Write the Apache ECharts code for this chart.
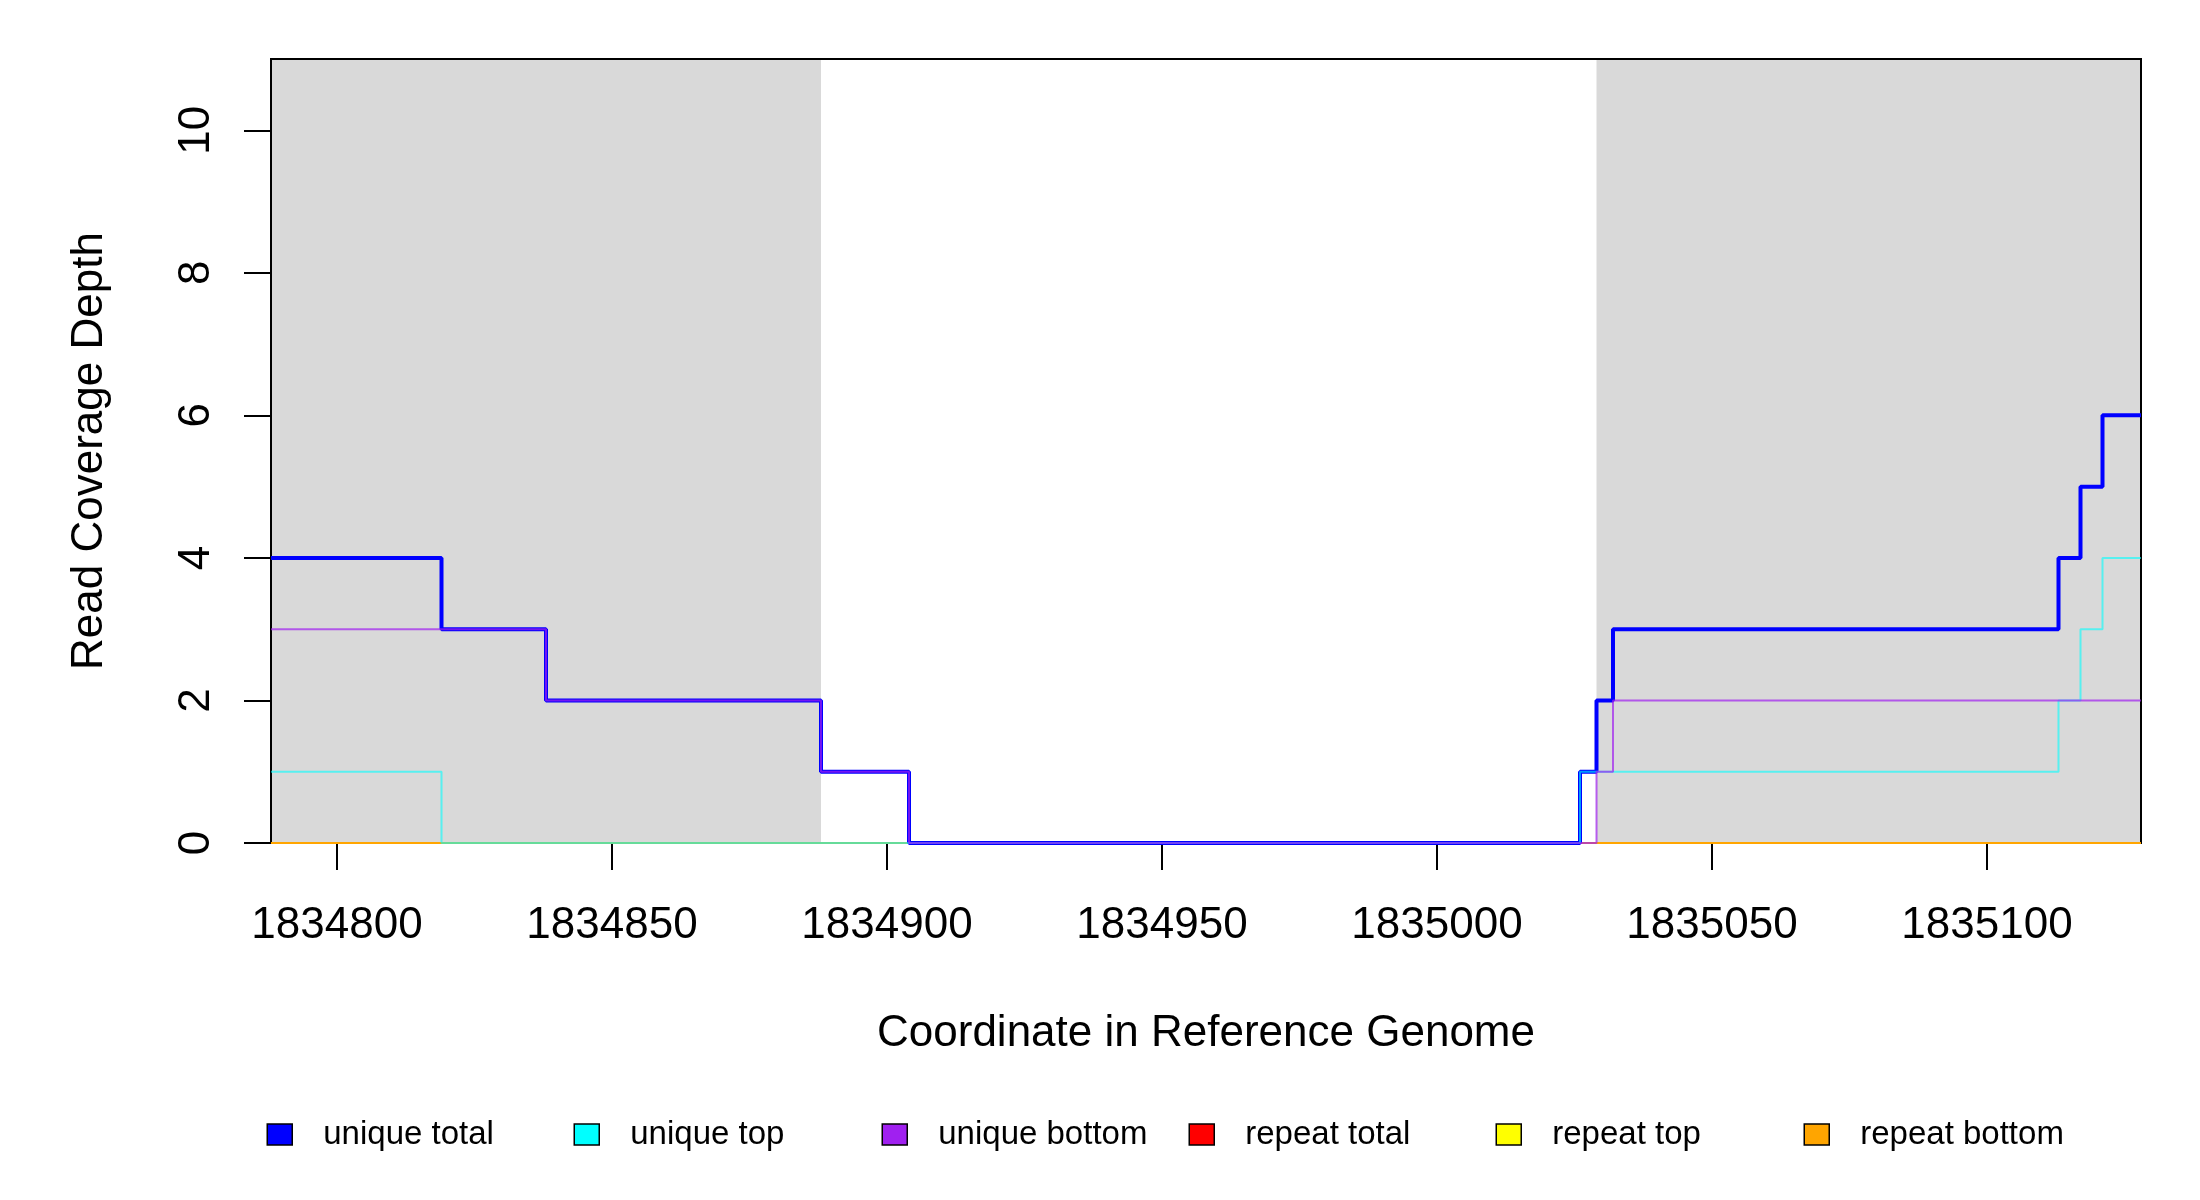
<!DOCTYPE html>
<html>
<head>
<meta charset="utf-8">
<script src="https://cdn.jsdelivr.net/npm/echarts@6/dist/echarts.min.js"></script>
<style>
html,body{margin:0;padding:0;background:#fff;}
#chart{width:2200px;height:1200px;}
</style>
</head>
<body>
<div id="chart"></div>
<script>
// ---- data ----
const positions    = [1834788, 1834819, 1834838, 1834888, 1834904, 1835026, 1835029, 1835032, 1835113, 1835117, 1835121, 1835128];
const uniqueTotal  = [4, 3, 2, 1, 0, 1, 2, 3, 4, 5, 6, 6];
const uniqueTop    = [1, 0, 0, 0, 0, 1, 1, 1, 2, 3, 4, 4];
const uniqueBottom = [3, 3, 2, 1, 0, 0, 1, 2, 2, 2, 2, 2];
const repeatTotal  = [0, 0, 0, 0, 0, 0, 0, 0, 0, 0, 0, 0];
const repeatTop    = [0, 0, 0, 0, 0, 0, 0, 0, 0, 0, 0, 0];
const repeatBottom = [0, 0, 0, 0, 0, 0, 0, 0, 0, 0, 0, 0];
const shadedRegions = [[1834788, 1834888], [1835029, 1835128]];
const xTicks = [1834800, 1834850, 1834900, 1834950, 1835000, 1835050, 1835100];
const yTicks = [0, 2, 4, 6, 8, 10];
const xRange = [1834788, 1835128];
const yRange = [0, 11];
const seriesNames = ['unique total', 'unique top', 'unique bottom', 'repeat total', 'repeat top', 'repeat bottom'];

// ---- styling ----
const FONT = '"Liberation Sans", Arial, sans-serif';
const colors = {
  'unique total': '#0000ff', 'unique top': '#00ffff', 'unique bottom': '#a020f0',
  'repeat total': '#ff0000', 'repeat top': '#ffff00', 'repeat bottom': '#ffa500'
};
const values = {
  'unique total': uniqueTotal, 'unique top': uniqueTop, 'unique bottom': uniqueBottom,
  'repeat total': repeatTotal, 'repeat top': repeatTop, 'repeat bottom': repeatBottom
};
const widths = {'unique total': 4, 'unique top': 2, 'unique bottom': 2, 'repeat total': 2, 'repeat top': 2, 'repeat bottom': 2};
const opac = {'unique total': 1, 'unique top': 0.6, 'unique bottom': 0.7, 'repeat total': 1, 'repeat top': 1, 'repeat bottom': 1};
const drawOrder = ['repeat total', 'repeat top', 'repeat bottom', 'unique total', 'unique top', 'unique bottom'];

function pairs(ys) { return positions.map((x, i) => [x, ys[i]]); }

const series = [{
  name: 'shade', type: 'line', data: [], silent: true, z: 0,
  markArea: {
    silent: true, z: 0,
    itemStyle: {color: '#d9d9d9', opacity: 1},
    data: shadedRegions.map(r => [{xAxis: r[0]}, {xAxis: r[1]}])
  }
}].concat(drawOrder.map(n => ({
  name: n, type: 'line', step: 'end', showSymbol: false, symbol: 'none',
  data: pairs(values[n]), z: 2,
  itemStyle: {color: colors[n]},
  lineStyle: {color: colors[n], width: widths[n], opacity: opac[n]},
  emphasis: {disabled: true}
})));

const legendCenters = [279, 586, 894, 1201, 1508, 1816];
const legends = seriesNames.map((n, i) => ({
  data: [n], left: legendCenters[i] - 12.5, top: 1118, padding: 0,
  orient: 'horizontal', icon: 'rect', itemWidth: 25, itemHeight: 21,
  itemStyle: {borderColor: '#000', borderWidth: 1.5},
  lineStyle: {width: 0, opacity: 0},
  textStyle: {fontFamily: FONT, fontSize: 33, color: '#000', padding: [0, 0, 0, 26]},
  selectedMode: false
}));

const option = {
  animation: false,
  backgroundColor: '#fff',
  grid: {left: 271, right: 59, top: 59, bottom: 357, show: true, borderColor: '#000', borderWidth: 2, backgroundColor: 'transparent', z: 1},
  legend: legends,
  xAxis: {
    type: 'value', min: xRange[0], max: xRange[1],
    name: 'Coordinate in Reference Genome', nameLocation: 'middle', nameGap: 169,
    nameTextStyle: {fontFamily: FONT, fontSize: 44, color: '#000'},
    axisLine: {show: false},
    splitLine: {show: false},
    axisTick: {show: true, length: 27, customValues: xTicks, lineStyle: {color: '#000', width: 2}},
    axisLabel: {customValues: xTicks, margin: 61, fontFamily: FONT, fontSize: 44, color: '#000',
      formatter: v => String(v)}
  },
  yAxis: {
    type: 'value', min: yRange[0], max: yRange[1],
    name: 'Read Coverage Depth', nameLocation: 'middle', nameGap: 159, nameRotate: 90,
    nameTextStyle: {fontFamily: FONT, fontSize: 44, color: '#000'},
    axisLine: {show: false},
    splitLine: {show: false},
    axisTick: {show: true, length: 27, customValues: yTicks, lineStyle: {color: '#000', width: 2}},
    axisLabel: {customValues: yTicks, rotate: 90, margin: 52, fontFamily: FONT, fontSize: 44, color: '#000',
      formatter: v => String(v)}
  },
  series: series
};

const chart = echarts.init(document.getElementById('chart'), null, {renderer: 'canvas'});
chart.setOption(option);
</script>
</body>
</html>
